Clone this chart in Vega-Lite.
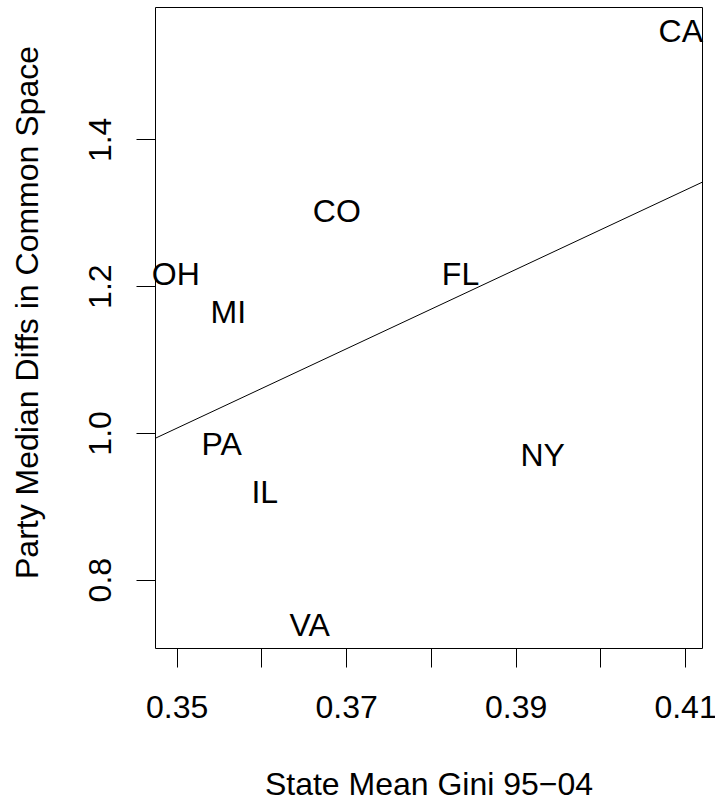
{
  "$schema": "https://vega.github.io/schema/vega-lite/v6.json",
  "width": 547,
  "height": 641,
  "autosize": {"type": "none"},
  "padding": {"left": 155, "top": 7, "right": 13, "bottom": 154},
  "background": "white",
  "config": {
    "view": {"stroke": "black", "strokeWidth": 1},
    "font": "Liberation Sans",
    "axis": {
      "grid": false,
      "domain": false,
      "tickColor": "black",
      "tickWidth": 1,
      "tickSize": 19,
      "labelFont": "Liberation Sans",
      "labelFontSize": 32,
      "labelColor": "black",
      "labelFlush": false,
      "labelOverlap": false,
      "titleFont": "Liberation Sans",
      "titleFontSize": 32,
      "titleFontWeight": "normal",
      "titleColor": "black"
    }
  },
  "datasets": {
    "states": [
      {"state": "CA", "gini": 0.4095, "diff": 1.5464},
      {"state": "CO", "gini": 0.3689, "diff": 1.3017},
      {"state": "OH", "gini": 0.3499, "diff": 1.2158},
      {"state": "FL", "gini": 0.3835, "diff": 1.2151},
      {"state": "MI", "gini": 0.3561, "diff": 1.1633},
      {"state": "PA", "gini": 0.3553, "diff": 0.983},
      {"state": "IL", "gini": 0.3604, "diff": 0.9179},
      {"state": "NY", "gini": 0.3932, "diff": 0.9684},
      {"state": "VA", "gini": 0.3657, "diff": 0.7366}
    ],
    "fit": [
      {"gini": 0.34744, "diff": 0.9925},
      {"gini": 0.412, "diff": 1.3415}
    ]
  },
  "encoding": {
    "x": {
      "field": "gini",
      "type": "quantitative",
      "scale": {"domain": [0.34744, 0.412], "nice": false, "zero": false},
      "axis": {
        "values": [0.35, 0.36, 0.37, 0.38, 0.39, 0.4, 0.41],
        "format": ".2f",
        "labelExpr": "(round(datum.value * 100) % 2 == 1) ? datum.label : ''",
        "labelBaseline": "alphabetic",
        "labelPadding": 50,
        "title": "State Mean Gini 95−04",
        "titleBaseline": "alphabetic",
        "titleY": 146
      }
    },
    "y": {
      "field": "diff",
      "type": "quantitative",
      "scale": {"domain": [0.7069, 1.5804], "nice": false, "zero": false},
      "axis": {
        "values": [0.8, 1.0, 1.2, 1.4],
        "format": ".1f",
        "labelAngle": -90,
        "labelAlign": "center",
        "labelBaseline": "alphabetic",
        "labelPadding": 26,
        "title": "Party Median Diffs in Common Space",
        "titleAngle": -90,
        "titleAlign": "center",
        "titleBaseline": "alphabetic",
        "titleX": -117.5,
        "titleY": 305
      }
    }
  },
  "layer": [
    {
      "data": {"name": "fit"},
      "mark": {"type": "line", "color": "black", "strokeWidth": 1}
    },
    {
      "data": {"name": "states"},
      "mark": {"type": "text", "fontSize": 32, "font": "Liberation Sans", "color": "black", "align": "center", "baseline": "middle"},
      "encoding": {"text": {"field": "state"}}
    }
  ]
}
